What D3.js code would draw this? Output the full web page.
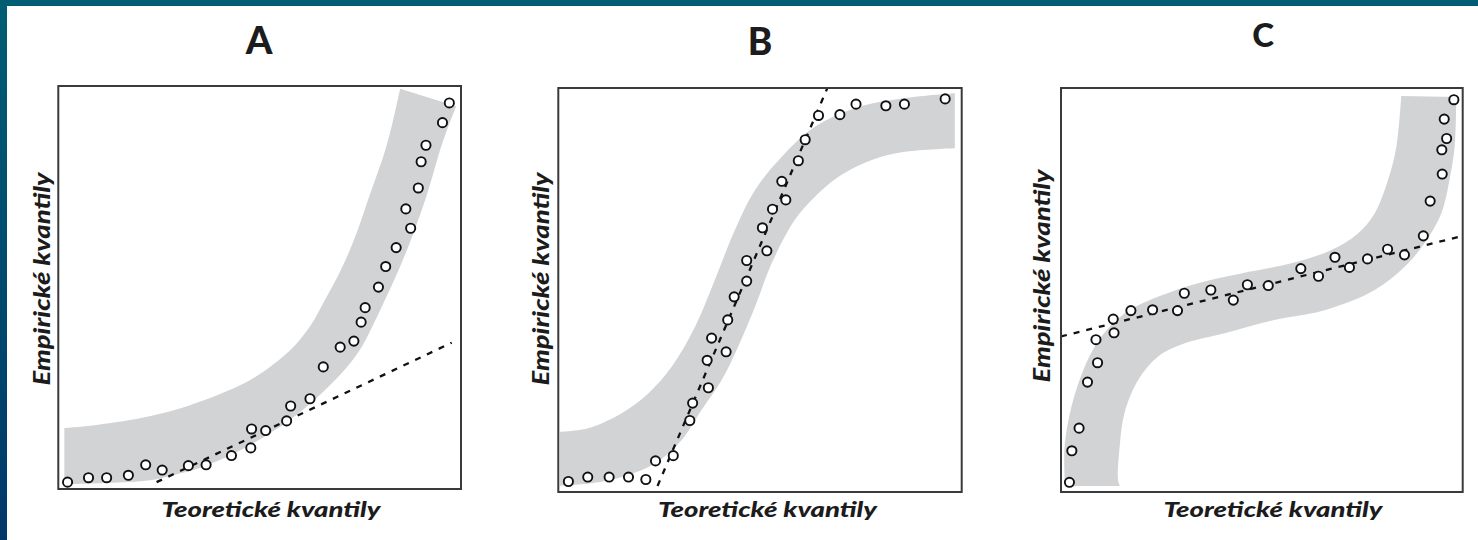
<!DOCTYPE html>
<html>
<head>
<meta charset="utf-8">
<script src="https://cdn.jsdelivr.net/npm/d3@7"></script>
<style>
  html, body { margin: 0; padding: 0; background: #fff; }
  svg { display: block; }
</style>
</head>
<body>
<svg id="chart" width="1478" height="540"></svg>
<script>
// ---------------- DATA ----------------
const panelTitles = ["A", "B", "C"];
const xAxisLabel = "Teoretické kvantily";
const yAxisLabel = "Empirické kvantily";

// Points (theoretical quantile, empirical quantile), normalized 0..100
const pointsA = [
  [2.3,1.7],[7.5,2.8],[12.0,2.8],[17.4,3.4],[21.7,6.0],[25.8,4.7],[32.3,5.8],[36.7,6.0],
  [43.0,8.3],[47.8,10.2],[48.0,14.9],[51.5,14.5],[56.7,16.9],[57.7,20.6],[62.5,22.4],
  [65.8,30.3],[70.0,35.2],[73.4,36.7],[75.2,41.4],[76.2,45.0],[79.5,50.1],[81.3,55.2],
  [83.9,59.9],[87.5,64.7],[86.3,69.5],[89.4,74.7],[90.1,81.2],[91.3,85.3],[95.4,90.9],[97.1,95.8]
];
const pointsB = [
  [2.5,2.6],[7.3,3.7],[12.6,3.7],[17.4,3.7],[21.7,3.1],[24.1,7.7],[28.5,9.0],[32.6,17.7],
  [33.3,22.0],[37.2,25.8],[36.9,32.6],[41.6,34.7],[38.0,38.1],[42.0,42.6],[43.6,48.3],
  [46.7,52.2],[46.7,57.3],[51.7,59.7],[50.6,65.4],[53.1,70.0],[56.4,72.3],[55.4,76.9],
  [59.5,82.0],[61.2,87.2],[64.5,93.2],[69.8,93.4],[73.8,96.0],[81.2,95.6],[85.8,96.0],[95.9,97.3]
];
const pointsC = [
  [2.1,2.4],[2.7,10.2],[4.5,15.8],[6.6,27.2],[9.1,32.0],[8.7,37.7],[13.2,39.4],[13.0,42.8],
  [17.4,44.9],[22.8,45.1],[29.0,44.9],[30.7,49.2],[37.3,50.0],[42.9,47.5],[46.4,51.3],
  [51.6,51.1],[59.7,55.3],[64.1,53.4],[68.2,58.1],[71.8,55.6],[76.3,57.7],[81.3,60.1],
  [85.5,58.7],[90.2,63.4],[91.9,72.0],[94.9,78.7],[94.8,84.7],[96.0,87.5],[95.4,92.3],[97.8,97.1]
];

// Reference (dashed) lines: two end points
const refLineA = [[24.4,1.7],[97.7,36.3]];
const refLineB = [[24.6,1.5],[66.7,100]];
const refLineC = [[0,38.5],[100,63.4]];

// Confidence bands: upper/left edge and lower/right edge (normalized)
const bandAUpper = [
  [1.5,15.1],[9,15.8],[17.8,17.1],[25,18.6],[32.7,20.8],[40,23.5],[47.6,27.0],[53.5,31.0],
  [58.8,35.7],[62.8,40.8],[66.2,46.9],[69.5,53.0],[72.4,59.3],[74.8,65.5],[76.9,71.7],
  [79.1,77.9],[81.2,84.1],[83.1,91.3],[84.9,99.3]
];
const bandALower = [
  [98.8,95.0],[96.8,89.8],[94.8,84.1],[93.0,77.9],[91.1,71.7],[88.7,64.9],[86.1,58.1],
  [83.6,52.3],[81.1,46.9],[78.3,41.0],[75.6,35.7],[71.8,30.4],[67.5,25.8],[62.6,21.2],
  [57.5,17.1],[52.5,13.8],[47.6,10.9],[41.5,7.8],[35.1,5.2],[28.8,3.5],[22.8,2.2],
  [12,1.5],[1.5,1.2]
];
const bandBUpper = [
  [0.4,14.9],[7.4,15.8],[15.7,19.5],[22.3,24.4],[28.1,31.0],[33.9,40.9],[38.8,52.5],
  [43.8,64.9],[48.8,74.8],[55.4,83.0],[63.6,90.4],[73.5,95.0],[85.9,97.5],[98.3,98.7]
];
const bandBLower = [
  [98.3,85.1],[85.9,84.2],[77.7,82.2],[69.4,78.0],[63.6,73.1],[58.6,67.3],[52.9,56.6],
  [48.8,45.9],[44.6,36.0],[40.5,27.7],[35.5,20.3],[30.6,12.9],[24.0,7.1],[17.4,4.2],
  [10,2.4],[0.4,1.5]
];
const bandCUpper = [
  [1.0,1.5],[0.9,11.2],[2.6,21.1],[5.9,31.0],[10.0,38.4],[15.8,44.2],[24.1,48.3],[34.1,51.7],
  [44.9,54.1],[57.3,56.6],[67.3,59.9],[73.9,64.0],[78.1,69.0],[81.4,77.2],[83.5,85.5],[84.7,98.0]
];
const bandCLower = [
  [98.4,97.8],[98.0,85.5],[96.7,77.2],[94.7,69.0],[90.5,61.6],[85.6,55.8],[78.1,50.0],
  [65.6,45.0],[53.1,42.6],[40.7,39.3],[30.8,36.8],[24.1,33.5],[19.2,27.7],[15.8,19.5],
  [14.6,11.2],[14.2,3.0],[14.7,1.5]
];

const panelPoints = [pointsA, pointsB, pointsC];
const panelRefLines = [refLineA, refLineB, refLineC];
const panelBandUpper = [bandAUpper, bandBUpper, bandCUpper];
const panelBandLower = [bandALower, bandBLower, bandCLower];

// ---------------- LAYOUT ----------------
const frames = [
  {x0: 58.3, x1: 461, y0: 86, y1: 489},
  {x0: 558.3, x1: 961.7, y0: 88, y1: 492},
  {x0: 1061, x1: 1462.7, y0: 88, y1: 492}
];
const titlePos = [
  {x: 259, y: 54, size: 38},
  {x: 760, y: 55, size: 37},
  {x: 1263, y: 47, size: 33}
];
const xLabelPos = [{x: 271, y: 517}, {x: 767.5, y: 517}, {x: 1273, y: 517}];
const yLabelPos = [{x: 50, y: 279}, {x: 549.3, y: 279}, {x: 1050, y: 276}];
const labelWidthX = 219, labelWidthY = 213;

const svg = d3.select("#chart");
const defs = svg.append("defs");
const grad = defs.append("linearGradient").attr("id", "bg").attr("x1", 0).attr("y1", 0).attr("x2", 0).attr("y2", 1);
grad.append("stop").attr("offset", "0%").attr("stop-color", "#005d73");
grad.append("stop").attr("offset", "100%").attr("stop-color", "#00386a");

svg.append("rect").attr("width", 1478).attr("height", 540).attr("fill", "url(#bg)");
svg.append("rect").attr("x", 7).attr("y", 6).attr("width", 1471).attr("height", 534).attr("fill", "#ffffff");

const fontFamily = "Lato, 'Open Sans', 'DejaVu Sans', sans-serif";
const textColor = "#1c1c1c";

frames.forEach((f, i) => {
  const x = d3.scaleLinear().domain([0, 100]).range([f.x0, f.x1]);
  const y = d3.scaleLinear().domain([0, 100]).range([f.y1, f.y0]);
  const g = svg.append("g");

  const clipId = "clip" + i;
  defs.append("clipPath").attr("id", clipId)
    .append("rect").attr("x", f.x0).attr("y", f.y0).attr("width", f.x1 - f.x0).attr("height", f.y1 - f.y0);
  const inner = g.append("g").attr("clip-path", `url(#${clipId})`);

  // band
  const curve = d3.line().x(d => x(d[0])).y(d => y(d[1])).curve(d3.curveCatmullRom.alpha(0.5));
  const upperPath = curve(panelBandUpper[i]);
  const lowerPath = curve(panelBandLower[i]);
  inner.append("path")
    .attr("d", upperPath + "L" + lowerPath.slice(1) + "Z")
    .attr("fill", "#d2d3d5");

  // dashed reference line
  inner.append("path")
    .attr("d", d3.line().x(d => x(d[0])).y(d => y(d[1]))(panelRefLines[i]))
    .attr("fill", "none").attr("stroke", "#111").attr("stroke-width", 2.3)
    .attr("stroke-dasharray", "6,7");

  // points
  inner.selectAll("circle").data(panelPoints[i]).join("circle")
    .attr("cx", d => x(d[0])).attr("cy", d => y(d[1])).attr("r", 4.6)
    .attr("fill", "#fff").attr("stroke", "#111").attr("stroke-width", 1.9);

  // frame
  g.append("rect").attr("x", f.x0).attr("y", f.y0)
    .attr("width", f.x1 - f.x0).attr("height", f.y1 - f.y0)
    .attr("fill", "none").attr("stroke", "#3a3a3a").attr("stroke-width", 2);

  // title
  g.append("text").text(panelTitles[i])
    .attr("x", titlePos[i].x).attr("y", titlePos[i].y)
    .attr("text-anchor", "middle")
    .attr("font-family", fontFamily).attr("font-weight", 900)
    .attr("font-size", titlePos[i].size).attr("fill", textColor);

  // x label
  g.append("text").text(xAxisLabel)
    .attr("x", xLabelPos[i].x).attr("y", xLabelPos[i].y)
    .attr("text-anchor", "middle")
    .attr("font-family", fontFamily).attr("font-weight", 900).attr("font-style", "italic")
    .attr("font-size", 21).attr("fill", textColor)
    .attr("textLength", labelWidthX).attr("lengthAdjust", "spacingAndGlyphs");

  // y label
  g.append("text").text(yAxisLabel)
    .attr("transform", `translate(${yLabelPos[i].x},${yLabelPos[i].y}) rotate(-90)`)
    .attr("text-anchor", "middle")
    .attr("font-family", fontFamily).attr("font-weight", 900).attr("font-style", "italic")
    .attr("font-size", 22).attr("fill", textColor)
    .attr("textLength", labelWidthY).attr("lengthAdjust", "spacingAndGlyphs");
});
</script>
</body>
</html>
